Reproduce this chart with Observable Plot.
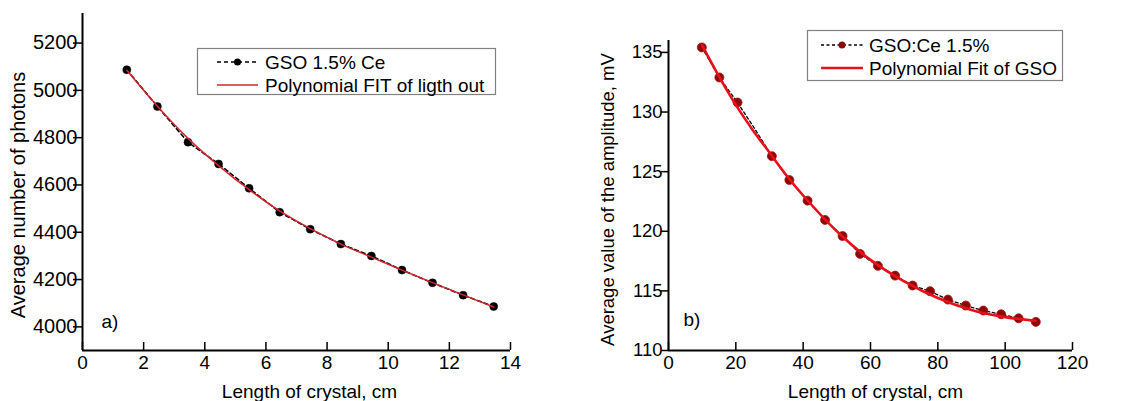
<!DOCTYPE html>
<html><head><meta charset="utf-8">
<script src="https://cdn.jsdelivr.net/npm/d3@7"></script>
<script src="https://cdn.jsdelivr.net/npm/@observablehq/plot@0.6"></script>
<style>
body{margin:0;background:#fff;}
#wrap{position:relative;width:1130px;height:401px;display:flex;overflow:hidden}
#wrap svg{display:block}
.lg{position:absolute;overflow:visible}
</style></head>
<body><div id="wrap"></div>
<script>
// ---------- Panel a) ----------
const lengthA  = [1.45, 2.45, 3.45, 4.45, 5.45, 6.45, 7.45, 8.45, 9.45, 10.45, 11.45, 12.45, 13.45];
const photonsA = [5087, 4932, 4781, 4689, 4586, 4485, 4413, 4350, 4300, 4240, 4186, 4134, 4086];
const fitLenA  = [1.45, 2.45, 3.45, 4.45, 5.45, 6.45, 7.45, 8.45, 9.45, 10.45, 11.45, 12.45, 13.45];
const fitA     = [5085, 4933, 4797, 4682, 4580, 4490, 4415, 4350, 4295, 4240, 4187, 4135, 4084];
const xTicksA  = [0, 2, 4, 6, 8, 10, 12, 14];
const yTicksA  = [4000, 4200, 4400, 4600, 4800, 5000, 5200];
const xLabelA  = "Length of crystal, cm";
const yLabelA  = "Average number of photons";

// ---------- Panel b) ----------
const lengthB = [9.9, 15.1, 20.5, 30.7, 35.9, 41.3, 46.5, 51.7, 56.9, 62.2, 67.3, 72.5, 77.7, 83.0, 88.3, 93.5, 98.8, 104.0, 109.1];
const ampB    = [135.42, 132.9, 130.8, 126.3, 124.3, 122.57, 120.95, 119.6, 118.1, 117.1, 116.28, 115.45, 114.97, 114.27, 113.77, 113.35, 113.04, 112.7, 112.4];
const extraLenB = [25.6];   // unmarked vertex of the dashed line
const extraAmpB = [128.6];
const fitLenB = [10, 15, 20, 25, 30, 35, 40, 50, 60, 70, 80, 90, 100, 109];
const fitB    = [135.6, 133.0, 130.6, 128.5, 126.6, 124.7, 123.0, 120.0, 117.6, 115.8, 114.4, 113.4, 112.8, 112.5];
const xTicksB = [0, 20, 40, 60, 80, 100, 120];
const yTicksB = [110, 115, 120, 125, 130, 135];
const xLabelB = "Length of crystal, cm";
const yLabelB = "Average value of the amplitude, mV";

const FONT = '"Liberation Sans", Arial, Helvetica, sans-serif';
const wrap = document.getElementById("wrap");

const ptsA = lengthA.map((x, i) => ({x, y: photonsA[i]}));
const fitPtsA = fitLenA.map((x, i) => ({x, y: fitA[i]}));
const ptsB = lengthB.map((x, i) => ({x, y: ampB[i]}));
const linePtsB = ptsB.concat(extraLenB.map((x, i) => ({x, y: extraAmpB[i]}))).sort((a, b) => a.x - b.x);
const fitPtsB = fitLenB.map((x, i) => ({x, y: fitB[i]}));

// Panel a
{
  const H = 401, mT = 13, mB = 51;
  const plotA = Plot.plot({
    width: 570, height: H,
    marginLeft: 82, marginRight: 60, marginTop: mT, marginBottom: mB,
    style: {fontFamily: FONT, fontSize: "19px", background: "transparent", color: "#000"},
    x: {domain: [0, 14]},
    y: {domain: [3900, 5325]},
    marks: [
      Plot.axisY(yTicksA, {tickSize: 9, tickPadding: -4, tickFormat: d => String(d), fontSize: 20, label: null, strokeWidth: 1.5}),
      Plot.axisX(xTicksA, {tickSize: 0, tickPadding: 5, tickFormat: d => String(d), fontSize: 19, label: null}),
      Plot.text([yLabelA], {frameAnchor: "left", rotate: -90, dx: -64, dy: 13, textAnchor: "middle", lineAnchor: "middle", fontSize: 20, fill: "#000"}),
      Plot.text([xLabelA], {frameAnchor: "bottom", dx: 13, dy: 47, textAnchor: "middle", lineAnchor: "bottom", fontSize: 19, fill: "#000"}),
      Plot.tickX(xTicksA, {x: d => d, insetTop: H - mT - mB - 8, stroke: "#000", strokeWidth: 1.5}),
      Plot.ruleY([3900], {stroke: "#000", strokeWidth: 2}),
      Plot.ruleX([0], {stroke: "#000", strokeWidth: 2}),
      Plot.line(ptsA, {x: "x", y: "y", stroke: "#000", strokeWidth: 1.6, strokeDasharray: "4,3"}),
      Plot.dot(ptsA, {x: "x", y: "y", r: 4, fill: "#000", stroke: "#000", strokeWidth: 0.5}),
      Plot.line(fitPtsA, {x: "x", y: "y", stroke: "#d3262e", strokeWidth: 1.5, curve: "catmull-rom"}),
      Plot.text(["a)"], {frameAnchor: "bottom-left", textAnchor: "start", dx: 19, dy: -23, fontSize: 19, fill: "#000"})
    ]
  });
  wrap.appendChild(plotA);
}

// Panel b
{
  const H = 401, mT = 40, mB = 51;
  const plotB = Plot.plot({
    width: 560, height: H,
    marginLeft: 98, marginRight: 58, marginTop: mT, marginBottom: mB,
    style: {fontFamily: FONT, fontSize: "19px", background: "transparent", color: "#000"},
    x: {domain: [0, 120]},
    y: {domain: [110, 136]},
    marks: [
      Plot.axisY(yTicksB, {tickSize: 7, tickPadding: -1, tickFormat: d => String(d), fontSize: 18.5, label: null, strokeWidth: 1.5}),
      Plot.axisX(xTicksB, {tickSize: 0, tickPadding: 5, tickFormat: d => String(d), fontSize: 19, label: null}),
      Plot.text([yLabelB], {frameAnchor: "left", rotate: -90, dx: -60, dy: 4, textAnchor: "middle", lineAnchor: "middle", fontSize: 18.5, fill: "#000"}),
      Plot.text([xLabelB], {frameAnchor: "bottom", dx: 5, dy: 47, textAnchor: "middle", lineAnchor: "bottom", fontSize: 19, fill: "#000"}),
      Plot.tickX(xTicksB, {x: d => d, insetTop: H - mT - mB - 8, stroke: "#000", strokeWidth: 1.5}),
      Plot.ruleY([110], {stroke: "#000", strokeWidth: 2}),
      Plot.ruleX([0], {stroke: "#000", strokeWidth: 2}),
      Plot.line(linePtsB, {x: "x", y: "y", stroke: "#000", strokeWidth: 1.3, strokeDasharray: "3,2.5"}),
      Plot.dot(ptsB, {x: "x", y: "y", r: 4.5, fill: "#8a0a0a", stroke: "#b01010", strokeWidth: 0.8}),
      Plot.line(fitPtsB, {x: "x", y: "y", stroke: "#e8101a", strokeWidth: 2.6, curve: "catmull-rom"}),
      Plot.text(["b)"], {frameAnchor: "bottom-left", textAnchor: "start", dx: 15, dy: -25, fontSize: 19, fill: "#000"})
    ]
  });
  wrap.appendChild(plotB);
}

// Legends (overlaid boxes)
function legend({left, top, w, h, rows, fontSize}) {
  const svg = d3.select(wrap).append("svg").attr("class", "lg")
    .style("left", left + "px").style("top", top + "px")
    .attr("width", w + 2).attr("height", h + 2);
  svg.append("rect").attr("x", 0.5).attr("y", 0.5).attr("width", w).attr("height", h)
    .attr("fill", "#fff").attr("stroke", "#808080").attr("stroke-width", 1.2);
  for (const r of rows) {
    svg.append("line").attr("x1", r.x1).attr("x2", r.x2).attr("y1", r.y).attr("y2", r.y)
      .attr("stroke", r.stroke).attr("stroke-width", r.sw).attr("stroke-dasharray", r.dash || null);
    if (r.dot) svg.append("circle").attr("cx", (r.x1 + r.x2) / 2).attr("cy", r.y).attr("r", r.dot.r)
      .attr("fill", r.dot.fill);
    svg.append("text").attr("x", r.tx).attr("y", r.y).attr("dy", "0.35em")
      .attr("font-family", FONT).attr("font-size", fontSize).attr("fill", "#000").text(r.label);
  }
}
legend({left: 197, top: 48, w: 298, h: 46, fontSize: 19, rows: [
  {label: "GSO 1.5% Ce", x1: 20, x2: 61, y: 14, stroke: "#000", sw: 1.6, dash: "4,3", dot: {r: 3.5, fill: "#000"}, tx: 68},
  {label: "Polynomial FIT of ligth out", x1: 20, x2: 61, y: 37, stroke: "#d3262e", sw: 1.5, tx: 68}
]});
legend({left: 807, top: 30, w: 255, h: 50, fontSize: 19, rows: [
  {label: "GSO:Ce 1.5%", x1: 14, x2: 56, y: 15, stroke: "#000", sw: 1.3, dash: "3,2.5", dot: {r: 3.5, fill: "#8a0a0a"}, tx: 62},
  {label: "Polynomial Fit of GSO", x1: 14, x2: 56, y: 38, stroke: "#e8101a", sw: 2.6, tx: 62}
]});
</script>
</body></html>
